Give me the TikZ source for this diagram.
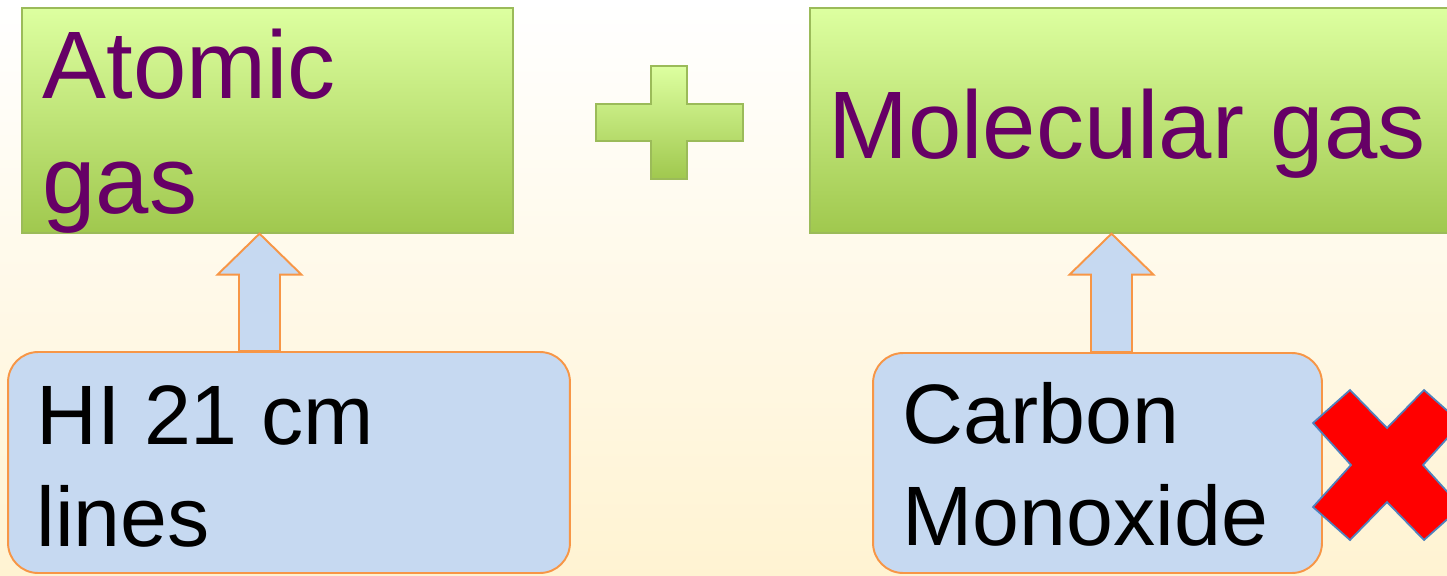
\documentclass[tikz,border=0pt]{standalone}
\usepackage{fontspec}
\setmainfont{Liberation Sans}
\usetikzlibrary{calc}
\definecolor{bgtop}{HTML}{FFFFFF}
\definecolor{bgbot}{HTML}{FFF3D2}
\definecolor{gtop}{HTML}{DDFFA0}
\definecolor{gbot}{HTML}{A0C84E}
\definecolor{gline}{HTML}{9BBB59}
\definecolor{bfill}{HTML}{C6D9F1}
\definecolor{oline}{HTML}{F79646}
\definecolor{ptext}{HTML}{660066}
\definecolor{xline}{HTML}{4F81BD}
\tikzset{
  greenbox/.style={draw=gline, line width=0.8pt, top color=gtop, bottom color=gbot, inner sep=0pt},
  bluebox/.style={draw=oline, line width=1.1pt, fill=bfill, rounded corners=0.6cm, inner sep=0pt},
  blockarrow/.style={draw=oline, line width=1.1pt, fill=bfill, line join=miter},
  bigtxt/.style={text=ptext, inner sep=0pt, align=left, font=\fontsize{54.6}{65}\selectfont},
  smalltxt/.style={text=black, inner sep=0pt, align=left, font=\fontsize{48}{57.8}\selectfont},
}
\begin{document}
\begin{tikzpicture}[x=0.02cm,y=-0.02cm]
\useasboundingbox (0,0) rectangle (1447,575);
\clip (0,0) rectangle (1447,575);
\shade[top color=bgtop, bottom color=bgbot] (0,0) rectangle (1447,575);
% green boxes
\node[greenbox, minimum width=9.82cm, minimum height=4.5cm] (atomic) at (267.5,120.5) {};
\node[greenbox, minimum width=13cm, minimum height=4.5cm] (molecular) at (1135,120.5) {};
% plus sign
\shade[draw=gline, line width=1.2pt, top color=gtop, bottom color=gbot]
  (651,66) -- (687,66) -- (687,104) -- (743,104) -- (743,141) -- (687,141) -- (687,179)
  -- (651,179) -- (651,141) -- (596,141) -- (596,104) -- (651,104) -- cycle;
% blue boxes
\node[bluebox, minimum width=11.24cm, minimum height=4.42cm] (hi) at (289,462.5) {};
\node[bluebox, minimum width=8.98cm, minimum height=4.4cm] (co) at (1097.5,463) {};
% arrows
\coordinate (a1) at ($(atomic.south)+(-8,0)$);
\coordinate (a2) at ($(molecular.south)+(-23.5,0)$);
\draw[blockarrow] ($(a1|-hi.north)+(-20.5,0)$) -- ($(a1)+(-20.5,41)$) -- ($(a1)+(-42,41)$) -- (a1)
  -- ($(a1)+(42,41)$) -- ($(a1)+(20.5,41)$) -- ($(a1|-hi.north)+(20.5,0)$) -- cycle;
\draw[blockarrow] ($(a2|-co.north)+(-20.5,0)$) -- ($(a2)+(-20.5,41)$) -- ($(a2)+(-42,41)$) -- (a2)
  -- ($(a2)+(42,41)$) -- ($(a2)+(20.5,41)$) -- ($(a2|-co.north)+(20.5,0)$) -- cycle;
% texts (base anchor = baseline of the last line)
\node[bigtxt, anchor=base west] (atomictxt) at (42,213) {Atomic\\gas};
\node[bigtxt, anchor=base west] (moltxt) at (828,158) {Molecular gas};
\node[smalltxt, anchor=base west] (hitxt) at (36,546) {HI 21 cm\\lines};
\node[smalltxt, anchor=base west] (cotxt) at (902,545) {Carbon\\Monoxide};
% red cross
\begin{scope}[shift={(1387,465)}]
\draw[fill=red, draw=xline, line width=1pt, line join=miter]
  (0,-37) -- (37,-75) -- (74,-42) -- (36,0) -- (74,42) -- (37,75) -- (0,37)
  -- (-37,75) -- (-74,42) -- (-36,0) -- (-74,-42) -- (-37,-75) -- cycle;
\end{scope}
\end{tikzpicture}
\end{document}
